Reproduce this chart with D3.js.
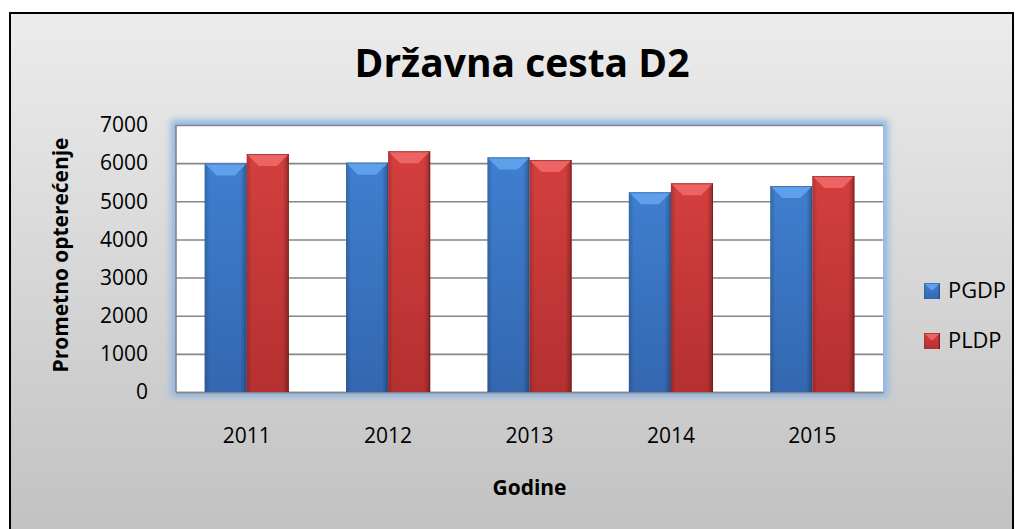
<!DOCTYPE html>
<html>
<head>
<meta charset="utf-8">
<script src="https://cdn.jsdelivr.net/npm/d3@7"></script>
<style>
	html, body { margin: 0; padding: 0; background: #fff; }
	#outer { width: 1021px; height: 529px; }
	text { font-family: 'Open Sans', 'Noto Sans', sans-serif; fill: #000; }
</style>
</head>
<body>
<div id="outer"></div>
<script>
// ---------- DATA ----------
const years = ['2011', '2012', '2013', '2014', '2015'];
const seriesNames = ['PGDP', 'PLDP'];
const pgdp = [5990, 6010, 6150, 5235, 5400];
const pldp = [6240, 6310, 6080, 5470, 5660];
const yTicks = [0, 1000, 2000, 3000, 4000, 5000, 6000, 7000];

const titleText = 'Državna cesta D2';
const xTitleText = 'Godine';
const yTitleText = 'Prometno opterećenje';

// ---------- LAYOUT ----------
const W = 1021, H = 529;
const plot = { left: 176, right: 883, top: 125, bottom: 392 };
const bevel = 12;
const colors = {
	PGDP: { top: '#5fa0ea', mid: '#3f7fcf', bottom: '#3467b0', edge: '#234e8c' },
	PLDP: { top: '#ec6464', mid: '#d43f3f', bottom: '#b53030', edge: '#6e1414' }
};

const svg = d3.select('#outer').append('svg')
	.attr('width', W)
	.attr('height', H);

const defs = svg.append('defs');

const bg = defs.append('linearGradient').attr('id', 'bgGrad')
	.attr('x1', 0).attr('y1', 0).attr('x2', 0).attr('y2', 1);
bg.append('stop').attr('offset', '0%').attr('stop-color', '#ececec');
bg.append('stop').attr('offset', '100%').attr('stop-color', '#c0c0c0');

defs.append('filter').attr('id', 'glow')
	.attr('x', '-10%').attr('y', '-10%').attr('width', '120%').attr('height', '120%')
	.append('feGaussianBlur').attr('stdDeviation', 3.5);

seriesNames.forEach(name => {
	const c = colors[name];
	const g = defs.append('linearGradient').attr('id', 'grad' + name)
		.attr('x1', 0).attr('y1', 0).attr('x2', 0).attr('y2', 1);
	g.append('stop').attr('offset', '0%').attr('stop-color', c.mid);
	g.append('stop').attr('offset', '100%').attr('stop-color', c.bottom);
	const s = defs.append('linearGradient').attr('id', 'side' + name)
		.attr('x1', 0).attr('y1', 0).attr('x2', 1).attr('y2', 0);
	s.append('stop').attr('offset', '0%').attr('stop-color', '#000').attr('stop-opacity', 0.18);
	s.append('stop').attr('offset', '12%').attr('stop-color', '#000').attr('stop-opacity', 0);
	s.append('stop').attr('offset', '85%').attr('stop-color', '#000').attr('stop-opacity', 0);
	s.append('stop').attr('offset', '100%').attr('stop-color', '#000').attr('stop-opacity', 0.28);
});

// background + frame
svg.append('rect')
	.attr('x', 10).attr('y', 13).attr('width', 1003).attr('height', 540)
	.attr('fill', 'url(#bgGrad)')
	.attr('stroke', '#000').attr('stroke-width', 2);

// plot area glow + fill
svg.append('rect')
	.attr('x', plot.left - 5).attr('y', plot.top - 5)
	.attr('width', plot.right - plot.left + 10).attr('height', plot.bottom - plot.top + 10)
	.attr('fill', '#8fb5e4')
	.attr('filter', 'url(#glow)');
svg.append('rect')
	.attr('x', plot.left).attr('y', plot.top)
	.attr('width', plot.right - plot.left).attr('height', plot.bottom - plot.top)
	.attr('fill', '#fff');

// ---------- SCALES ----------
const x = d3.scaleBand().domain(years)
	.range([plot.left, plot.right])
	.paddingInner(0.405).paddingOuter(0.2025);
const xs = d3.scaleBand().domain(seriesNames).range([0, x.bandwidth()]);
const y = d3.scaleLinear().domain([0, 7000]).range([plot.bottom, plot.top]);

// ---------- GRID / AXES ----------
const yAxis = svg.append('g')
	.attr('transform', `translate(${plot.left},0)`)
	.call(d3.axisLeft(y).tickValues(yTicks).tickFormat(d3.format('d'))
		.tickSize(-(plot.right - plot.left)).tickPadding(28));
yAxis.select('.domain').remove();
yAxis.selectAll('.tick line').attr('stroke', '#868686').attr('stroke-width', 1.6);
yAxis.selectAll('.tick text')
	.style('font-size', '21px')
	.attr('fill', '#000');

svg.append('line')
	.attr('x1', plot.left).attr('x2', plot.left)
	.attr('y1', plot.top).attr('y2', plot.bottom)
	.attr('stroke', '#868686').attr('stroke-width', 1.6);

const xAxis = svg.append('g')
	.attr('transform', `translate(0,${plot.bottom})`)
	.call(d3.axisBottom(x).tickSize(0).tickPadding(36));
xAxis.select('.domain').attr('stroke', '#868686').attr('stroke-width', 1.6);
xAxis.selectAll('.tick text').style('font-size', '21px').attr('fill', '#000');

// ---------- BARS ----------
const rows = years.map((yr, i) => ({ year: yr, PGDP: pgdp[i], PLDP: pldp[i] }));

const drawBevelBar = (g, bx, by, bw, bh, name, b) => {
	const c = colors[name];
	g.append('rect').attr('x', bx).attr('y', by).attr('width', bw).attr('height', bh)
		.attr('fill', 'url(#grad' + name + ')');
	g.append('rect').attr('x', bx).attr('y', by).attr('width', bw).attr('height', bh)
		.attr('fill', 'url(#side' + name + ')');
	g.append('path')
		.attr('d', `M${bx},${by}L${bx + bw},${by}L${bx + bw - b},${by + b}L${bx + b},${by + b}Z`)
		.attr('fill', c.top);
	g.append('line')
		.attr('x1', bx + bw - 0.5).attr('x2', bx + bw - 0.5)
		.attr('y1', by).attr('y2', by + bh)
		.attr('stroke', c.edge).attr('stroke-width', 1).attr('stroke-opacity', 0.7);
	g.append('line')
		.attr('x1', bx).attr('x2', bx + bw)
		.attr('y1', by + 0.5).attr('y2', by + 0.5)
		.attr('stroke', c.edge).attr('stroke-width', 1).attr('stroke-opacity', 0.5);
};

const barsG = svg.append('g').attr('class', 'bars');
rows.forEach(r => {
	seriesNames.forEach(name => {
		const bx = x(r.year) + xs(name);
		const by = y(r[name]);
		drawBevelBar(barsG, bx, by, xs.bandwidth(), plot.bottom - by, name, bevel);
	});
});

// ---------- TEXTS ----------
const fitText = (sel, target) => {
	const size = parseFloat(sel.style('font-size'));
	const w = sel.node().getComputedTextLength();
	sel.style('font-size', (size * target / w) + 'px');
};

const title = svg.append('text')
	.attr('x', 522).attr('y', 77)
	.attr('text-anchor', 'middle')
	.style('font-size', '35px').style('font-weight', 'bold')
	.text(titleText);
fitText(title, 335);

const xTitle = svg.append('text')
	.attr('x', x('2013') + x.bandwidth() / 2).attr('y', 495)
	.attr('text-anchor', 'middle')
	.style('font-size', '18px').style('font-weight', 'bold')
	.text(xTitleText);
fitText(xTitle, 74);

const yTitle = svg.append('text')
	.attr('transform', 'translate(68,255) rotate(-90)')
	.attr('text-anchor', 'middle')
	.style('font-size', '18px').style('font-weight', 'bold')
	.text(yTitleText);
fitText(yTitle, 235);

// ---------- LEGEND ----------
const legend = svg.append('g').attr('class', 'legend');
seriesNames.forEach((name, i) => {
	const ly = 283 + i * 50;
	drawBevelBar(legend, 924, ly, 16, 16, name, 7);
	const t = legend.append('text')
		.attr('x', 948).attr('y', ly + 15)
		.style('font-size', '21px')
		.text(name);
	if (i === 0) fitText(t, 58);
	else t.style('font-size', legend.select('text').style('font-size'));
});
</script>
</body>
</html>
